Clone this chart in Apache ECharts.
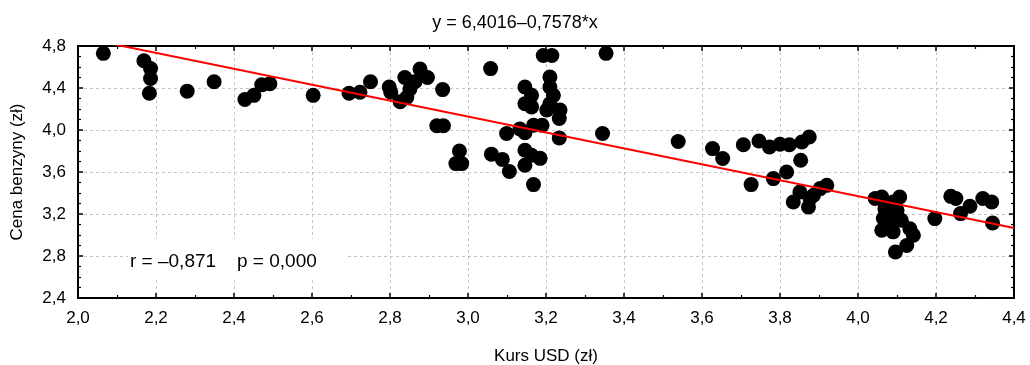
<!DOCTYPE html>
<html>
<head>
<meta charset="utf-8">
<script src="https://cdn.jsdelivr.net/npm/echarts@6/dist/echarts.min.js"></script>
<style>
html, body { margin: 0; padding: 0; background: #fff; }
#chart { width: 1030px; height: 365px; }
</style>
</head>
<body>
<div id="chart"></div>
<script>
// Exchange rate (PLN per USD) and petrol price (PLN) pairs
const kursUSD = [
  2.065, 2.169, 2.186, 2.186, 2.183, 2.28, 2.349, 2.428, 2.451, 2.471,
  2.492, 2.603, 2.695, 2.723, 2.75, 2.798, 2.802, 2.826, 2.838, 2.843,
  2.851, 2.864, 2.877, 2.896, 2.935, 2.92, 2.937, 2.978, 2.969, 2.984,
  3.058, 3.06, 3.088, 3.106, 3.099, 3.133, 3.146, 3.168, 3.19, 3.146,
  3.163, 3.146, 3.163, 3.146, 3.163, 3.185, 3.146, 3.168, 3.193, 3.215,
  3.21, 3.21, 3.219, 3.21, 3.202, 3.236, 3.234, 3.234, 3.354, 3.345,
  3.539, 3.627, 3.653, 3.706, 3.726, 3.746, 3.773, 3.783, 3.8, 3.824,
  3.817, 3.853, 3.856, 3.875, 3.851, 3.834, 3.873, 3.886, 3.903, 3.92,
  3.877, 4.044, 4.061, 4.107, 4.09, 4.069, 4.1, 4.065, 4.086, 4.111,
  4.061, 4.09, 4.133, 4.142, 4.125, 4.096, 4.197, 4.078, 4.238, 4.251,
  4.263, 4.287, 4.32, 4.343, 4.345
];
const cenaBenzyny = [
  4.73, 4.66, 4.585, 4.49, 4.35, 4.37, 4.46, 4.29, 4.33, 4.43,
  4.44, 4.33, 4.35, 4.36, 4.46, 4.41, 4.36, 4.27, 4.50, 4.31,
  4.39, 4.46, 4.58, 4.50, 4.385, 4.04, 4.04, 3.80, 3.68, 3.68,
  4.585, 3.77, 3.72, 3.605, 3.966, 4.01, 3.975, 4.045, 4.045, 4.41,
  4.33, 4.25, 4.22, 3.807, 3.76, 3.73, 3.664, 3.48, 4.71, 4.71,
  4.505, 4.41, 4.33, 4.25, 4.19, 4.19, 4.11, 3.925, 4.73, 3.966,
  3.89, 3.823, 3.728, 3.86, 3.48, 3.895, 3.838, 3.537, 3.864, 3.86,
  3.60, 3.712, 3.886, 3.933, 3.41, 3.314, 3.267, 3.378, 3.442, 3.473,
  3.347, 3.347, 3.362, 3.362, 3.314, 3.25, 3.235, 3.156, 3.124, 3.14,
  3.045, 3.03, 3.06, 2.997, 2.90, 2.838, 3.156, 3.204, 3.368, 3.347,
  3.204, 3.274, 3.347, 3.314, 3.114
];

// Fitted regression line and correlation statistics
const intercept = 6.4016;
const slope = -0.7578;
const rValue = '\u20130,871';
const pValue = '0,000';

const xMin = 2.0, xMax = 4.4, xStep = 0.2;
const yMin = 2.4, yMax = 4.8, yStep = 0.4;

const points = kursUSD.map((x, i) => [x, cenaBenzyny[i]]);
const fitLine = [xMin, xMax].map(x => [x, intercept + slope * x]);

const fmt = v => v.toFixed(1).replace('.', ',');
const FONT = '"Liberation Sans", Arial, sans-serif';
const GRID_LINE = { show: true, lineStyle: { color: '#c4c4c4', type: [3, 3], width: 1 } };

function axisBase(pos, showLabels, minorSplit) {
  return {
    type: 'value',
    position: pos,
    axisLine: { show: true, onZero: false, lineStyle: { color: '#000', width: 2 } },
    axisTick: { show: true, inside: true, length: 5, lineStyle: { color: '#000', width: 1.5 } },
    minorTick: { show: true, splitNumber: minorSplit, length: 3, lineStyle: { color: '#000', width: 1.2 } },
    axisLabel: { show: showLabels, formatter: fmt, color: '#000', fontFamily: FONT, fontSize: 17, margin: 12 },
    splitLine: { show: false }
  };
}

const chart = echarts.init(document.getElementById('chart'), null, { renderer: 'canvas' });

const xBottom = Object.assign(axisBase('bottom', true, 2), {
  min: xMin, max: xMax, interval: xStep,
  name: 'Kurs USD (zł)', nameLocation: 'middle', nameGap: 50,
  nameTextStyle: { color: '#000', fontFamily: FONT, fontSize: 17 },
  splitLine: GRID_LINE
});
const xTop = Object.assign(axisBase('top', false, 2), { min: xMin, max: xMax, interval: xStep });
const yLeft = Object.assign(axisBase('left', true, 4), {
  min: yMin, max: yMax, interval: yStep,
  name: 'Cena benzyny (zł)', nameLocation: 'middle', nameGap: 52,
  nameTextStyle: { color: '#000', fontFamily: FONT, fontSize: 17 },
  splitLine: GRID_LINE
});
const yRight = Object.assign(axisBase('right', false, 4), { min: yMin, max: yMax, interval: yStep });

chart.setOption({
  animation: false,
  backgroundColor: '#fff',
  title: {
    text: 'y = 6,4016\u20130,7578*x',
    left: 'center', top: 9,
    textStyle: { color: '#000', fontFamily: FONT, fontSize: 18, fontWeight: 'normal' }
  },
  grid: { left: 78, right: 16, top: 46, bottom: 67, containLabel: false, outerBoundsMode: 'none' },
  xAxis: [xBottom, xTop],
  yAxis: [yLeft, yRight],
  series: [
    {
      type: 'scatter',
      data: points,
      symbol: 'circle',
      symbolSize: 15,
      itemStyle: { color: '#000', opacity: 1 },
      z: 2
    },
    {
      type: 'line',
      data: fitLine,
      showSymbol: false,
      clip: true,
      lineStyle: { color: '#ff0000', width: 2 },
      z: 3
    }
  ],
  graphic: [
    {
      type: 'rect',
      shape: { x: 128, y: 239, width: 219, height: 40 },
      style: { fill: '#fff' },
      z: 10
    },
    {
      type: 'text',
      x: 130, y: 262,
      z: 11,
      style: { text: 'r = ' + rValue, fill: '#000', font: '19px ' + FONT, verticalAlign: 'middle' }
    },
    {
      type: 'text',
      x: 237, y: 262,
      z: 11,
      style: { text: 'p = ' + pValue, fill: '#000', font: '19px ' + FONT, verticalAlign: 'middle' }
    }
  ]
});
</script>
</body>
</html>
